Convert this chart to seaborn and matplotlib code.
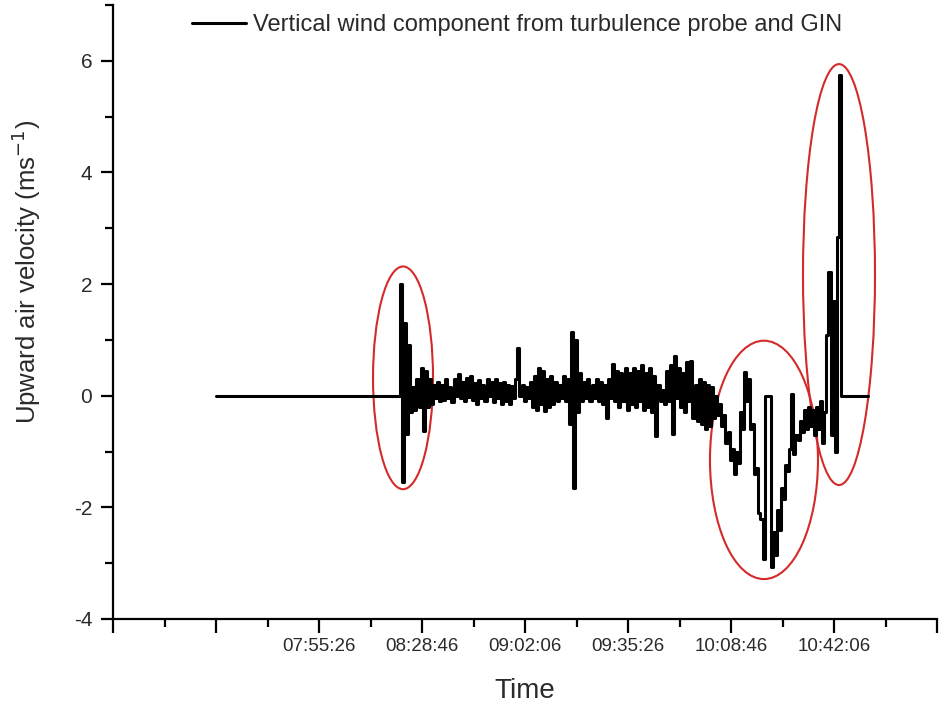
import matplotlib
matplotlib.use("Agg")
import matplotlib.pyplot as plt
from matplotlib.patches import Ellipse
from matplotlib.ticker import FixedLocator, MultipleLocator
import seaborn as sns
import pandas as pd

# ---------------- data ----------------
legend_label = "Vertical wind component from turbulence probe and GIN"
x_label = "Time"
y_label = "Upward air velocity (ms$^{-1}$)"

# flat (no data -> 0) segments before and after the measurement
lead_in_times = ["07:22:06", "08:21:18"]
lead_in_values = [0.0, 0.0]
tail_times = ["10:44:38", "10:53:06"]
tail_values = [0.0, 0.0]

# measured series: one sample every 40 s starting 08:21:58
sample_start = "08:21:58"
sample_step_s = 40
w_values = [
    2.0, -1.55, 1.3, -0.68, 0.9, -0.3, 0.15, -0.25, 0.3, -0.2,
    0.5, -0.63, 0.45, -0.2, 0.3, -0.15, 0.2, -0.05, 0.25, -0.1,
    0.2, -0.08, 0.3, -0.05, 0.15, -0.12, 0.3, 0.0, 0.38, -0.05,
    0.25, -0.1, 0.32, -0.02, 0.35, -0.08, 0.22, -0.15, 0.28, -0.05,
    0.2, -0.1, 0.3, 0.0, 0.25, -0.12, 0.3, -0.05, 0.22, -0.15,
    0.25, -0.1, 0.2, -0.15, 0.18, -0.05, 0.3, 0.85, 0.0, 0.2,
    -0.1, 0.15, -0.05, 0.25, -0.2, 0.35, -0.25, 0.5, -0.15, 0.45,
    -0.27, 0.3, -0.2, 0.35, -0.15, 0.25, -0.1, 0.2, -0.05, 0.35,
    -0.1, 0.3, -0.5, 1.15, -1.65, 1.0, -0.3, 0.4, -0.1, 0.25,
    -0.05, 0.3, -0.1, 0.2, -0.05, 0.3, -0.1, 0.25, -0.15, 0.2,
    -0.4, 0.3, -0.05, 0.57, -0.1, 0.45, -0.2, 0.4, -0.1, 0.5,
    -0.25, 0.4, -0.15, 0.5, -0.2, 0.45, -0.1, 0.55, -0.25, 0.4,
    -0.2, 0.5, -0.3, 0.35, -0.72, 0.2, -0.1, 0.1, -0.15, 0.45,
    -0.1, 0.55, -0.68, 0.72, -0.05, 0.5, -0.2, 0.4, -0.3, 0.6,
    -0.1, 0.63, -0.4, 0.2, -0.45, 0.3, -0.5, 0.25, -0.6, 0.2,
    -0.55, 0.15, -0.4, 0.0, -0.35, -0.15, -0.55, -0.35, -0.85, -0.65,
    -1.15, -0.95, -1.4, -1.0, -1.2, -0.3, -0.6, 0.43, -0.1, 0.3,
    -0.6, -0.5, -1.4, -1.3, -2.1, -2.2, -2.93, 0.0, 0.0, 0.0,
    -3.07, -2.45, -2.85, -2.05, -2.4, -1.65, -1.85, -1.25, -1.35, -0.95,
    0.03, -1.05, -0.7, -0.8, -0.45, -0.65, -0.25, -0.6, -0.2, -0.55,
    -0.25, -0.7, -0.2, -0.6, -0.1, -0.85, -0.3, 1.08, 2.22, -0.7,
    1.69, -1.0, 2.85, 5.75,
]

# axis ticks
tick_times = ["06:48:46", "07:22:06", "07:55:26", "08:28:46", "09:02:06",
              "09:35:26", "10:08:46", "10:42:06", "11:15:26"]
tick_labels = ["", "", "07:55:26", "08:28:46", "09:02:06",
               "09:35:26", "10:08:46", "10:42:06", ""]
y_ticks = [-4, -2, 0, 2, 4, 6]

# highlighted regions (red ellipses): centre time, centre value, width (s), height
ellipse_centres = ["08:22:37", "10:19:26", "10:43:43"]
ellipse_values = [0.32, -1.15, 2.17]
ellipse_widths_s = [1165, 2097, 1398]
ellipse_heights = [3.99, 4.27, 7.54]


def to_sec(s):
    h, m, sec = (int(p) for p in s.split(":"))
    return h * 3600 + m * 60 + sec


start = to_sec(sample_start)
times = ([to_sec(t) for t in lead_in_times]
         + [start + i * sample_step_s for i in range(len(w_values))]
         + [to_sec(t) for t in tail_times])
values = lead_in_values + w_values + tail_values
df = pd.DataFrame({"t": times, "w": values})

# ---------------- plot ----------------
sns.set_style("ticks")
plt.rcParams["font.family"] = ["Liberation Sans", "DejaVu Sans"]
plt.rcParams["text.color"] = "#2a2a2a"
plt.rcParams["axes.unicode_minus"] = False
plt.rcParams["path.simplify"] = False

fig = plt.figure(figsize=(9.42, 7.05), dpi=100)
ax = fig.add_axes([0.12, 0.122, 0.8747, 0.871])

sns.lineplot(data=df, x="t", y="w", estimator=None, sort=False,
             drawstyle="steps-mid", color="black", linewidth=2.2,
             label=legend_label, ax=ax)

for c, v, w, h in zip(ellipse_centres, ellipse_values, ellipse_widths_s, ellipse_heights):
    ax.add_patch(Ellipse((to_sec(c), v), w, h, fill=False,
                         edgecolor="#d42a2a", linewidth=1.5))

tick_pos = [to_sec(t) for t in tick_times]
ax.set_xlim(tick_pos[0], tick_pos[-1])
ax.set_ylim(-4, 7)
ax.xaxis.set_major_locator(FixedLocator(tick_pos))
ax.set_xticklabels(tick_labels)
ax.xaxis.set_minor_locator(FixedLocator(
    [(a + b) / 2 for a, b in zip(tick_pos[:-1], tick_pos[1:])]))
ax.set_yticks(y_ticks)
ax.yaxis.set_minor_locator(MultipleLocator(1))

for side in ["top", "right"]:
    ax.spines[side].set_visible(False)
for side in ["left", "bottom"]:
    ax.spines[side].set_linewidth(1.6)
    ax.spines[side].set_color("black")

ax.tick_params(axis="both", which="major", direction="out", width=1.6,
               color="black", labelcolor="#2a2a2a")
ax.tick_params(axis="x", which="major", length=10, pad=4, labelsize=13.5)
ax.tick_params(axis="y", which="major", length=9, pad=6, labelsize=15)
ax.tick_params(axis="both", which="minor", direction="out", width=1.6,
               length=5.5, color="black")

ax.set_xlabel(x_label, fontsize=20, color="#2a2a2a", labelpad=16)
ax.set_ylabel(y_label, fontsize=18.5, color="#2a2a2a")
ax.yaxis.set_label_coords(-0.085, 0.565)

leg = ax.legend(loc="upper left", bbox_to_anchor=(0.070, 1.02), frameon=False,
                fontsize=17, handlelength=2.27, handletextpad=0.3)
for line in leg.get_lines():
    line.set_linewidth(2.2)

fig.savefig("out.png", dpi=100)
